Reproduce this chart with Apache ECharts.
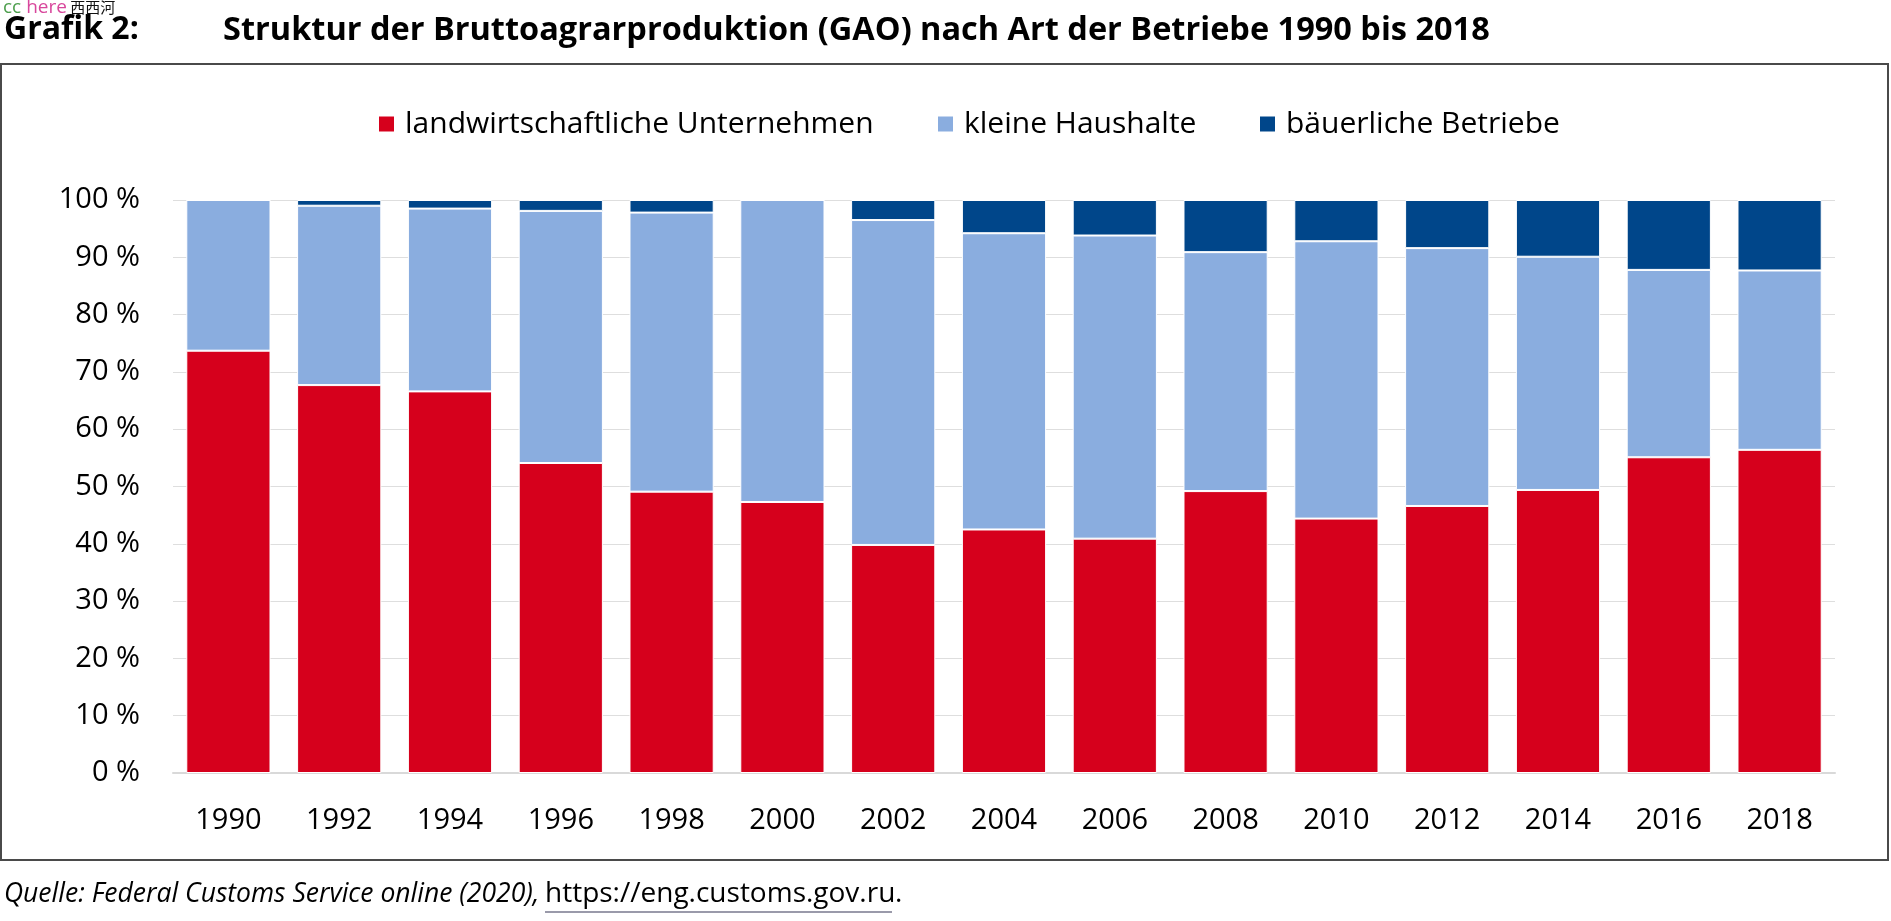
<!DOCTYPE html>
<html>
<head>
<meta charset="utf-8">
<script src="https://cdn.jsdelivr.net/npm/echarts@6/dist/echarts.min.js"></script>
<style>
html,body{margin:0;padding:0;background:#fff;}
#chart{width:1891px;height:921px;}
</style>
</head>
<body>
<div id="chart"></div>
<script>
const years = ['1990','1992','1994','1996','1998','2000','2002','2004','2006','2008','2010','2012','2014','2016','2018'];
const seriesNames = ['landwirtschaftliche Unternehmen', 'kleine Haushalte', 'bäuerliche Betriebe'];
const unternehmen = [73.7, 67.7, 66.6, 54.1, 49.1, 47.3, 39.8, 42.5, 40.9, 49.2, 44.4, 46.6, 49.4, 55.1, 56.4];
const haushalte   = [26.3, 31.3, 31.9, 44.0, 48.7, 52.7, 56.7, 51.7, 52.9, 41.7, 48.4, 45.0, 40.7, 32.7, 31.3];
const betriebe    = [0.0, 1.0, 1.5, 1.9, 2.2, 0.0, 3.5, 5.8, 6.2, 9.1, 7.2, 8.4, 9.9, 12.2, 12.3];
const yTicks = { min: 0, max: 100, interval: 10 };
const colors = ['#d6001c', '#8aaddf', '#00468a'];

const FONT = "'Open Sans', 'Noto Sans', sans-serif";

const chart = echarts.init(document.getElementById('chart'), null, { renderer: 'canvas' });

const legendBase = {
  orient: 'horizontal',
  top: 109,
  padding: 0,
  itemWidth: 17,
  itemHeight: 17,
  icon: 'rect',
  selectedMode: false,
  textStyle: { fontSize: 30, color: '#000', fontFamily: FONT, padding: [0, 0, 0, 5] }
};

const option = {
  backgroundColor: '#fff',
  animation: false,
  grid: { left: 173, right: 56, top: 200, bottom: 148, containLabel: false },
  legend: [
    Object.assign({}, legendBase, { left: 377, data: [seriesNames[0]] }),
    Object.assign({}, legendBase, { left: 936, data: [seriesNames[1]] }),
    Object.assign({}, legendBase, { left: 1258, data: [seriesNames[2]] })
  ],
  xAxis: {
    type: 'category',
    data: years,
    axisLine: { show: true, lineStyle: { color: '#d9d9d9', width: 2 } },
    axisTick: { show: false },
    axisLabel: { fontSize: 29, color: '#000', fontFamily: FONT, margin: 33 }
  },
  yAxis: {
    type: 'value',
    min: yTicks.min,
    max: yTicks.max,
    interval: yTicks.interval,
    axisLine: { show: false },
    axisTick: { show: false },
    splitLine: { lineStyle: { color: '#dedede', width: 1 } },
    axisLabel: { fontSize: 29, color: '#000', fontFamily: FONT, margin: 33, formatter: '{value} %' }
  },
  series: [
    { name: seriesNames[0], type: 'bar', stack: 'gao', data: unternehmen, barCategoryGap: '24%',
      itemStyle: { color: colors[0], borderColor: '#fff', borderWidth: 1 } },
    { name: seriesNames[1], type: 'bar', stack: 'gao', data: haushalte, barCategoryGap: '24%',
      itemStyle: { color: colors[1], borderColor: '#fff', borderWidth: 1 } },
    { name: seriesNames[2], type: 'bar', stack: 'gao', data: betriebe, barCategoryGap: '24%',
      itemStyle: { color: colors[2], borderColor: '#fff', borderWidth: 1 } }
  ],
  graphic: [
    { type: 'rect', silent: true, z: -1,
      shape: { x: 1, y: 64, width: 1887, height: 796 },
      style: { fill: 'none', stroke: '#4a4a4a', lineWidth: 2 } },
    { type: 'text', left: 4, top: 14,
      style: { text: 'Grafik 2:', font: "bold 32px " + FONT, fill: '#000' } },
    { type: 'text', left: 223, top: 14,
      style: { text: 'Struktur der Bruttoagrarproduktion (GAO) nach Art der Betriebe 1990 bis 2018', font: "bold 32.5px " + FONT, fill: '#000' } },
    { type: 'text', left: 3, top: -2, z: 10,
      style: {
        text: '{g|cc}{p| here} {k|西西河}',
        rich: {
          g: { fill: '#4c9e4c', fontSize: 19, fontFamily: FONT },
          p: { fill: '#d8479c', fontSize: 19, fontFamily: FONT },
          k: { fill: '#111', fontSize: 15, fontFamily: "'Noto Sans CJK SC', sans-serif" }
        }
      } },
    { type: 'text', left: 4, top: 881,
      style: { text: 'Quelle: Federal Customs Service online (2020),', font: "italic 26.5px " + FONT, fill: '#000' } },
    { type: 'text', left: 545, top: 880,
      style: { text: 'https://eng.customs.gov.ru', font: "28px " + FONT, fill: '#000' } },
    { type: 'text', left: 895, top: 880,
      style: { text: '.', font: "28px " + FONT, fill: '#000' } },
    { type: 'line', shape: { x1: 545, y1: 912, x2: 892, y2: 912 }, style: { stroke: '#9a9aaa', lineWidth: 2 } }
  ]
};

chart.setOption(option);
</script>
</body>
</html>
